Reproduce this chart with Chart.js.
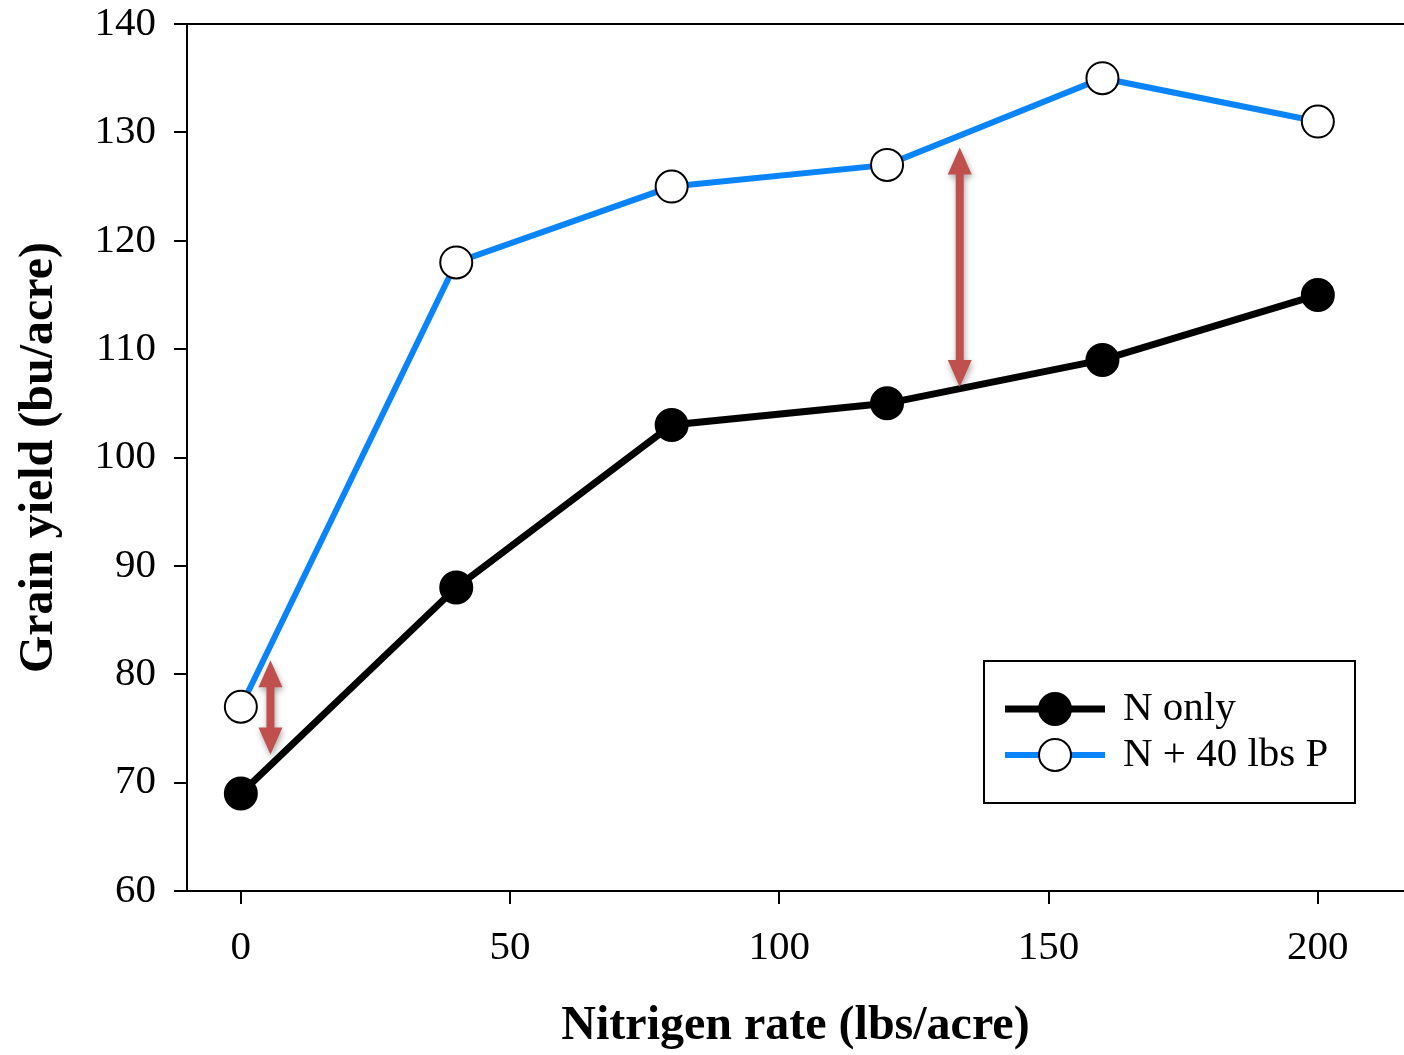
<!DOCTYPE html>
<html>
<head>
<meta charset="utf-8">
<script src="https://cdn.jsdelivr.net/npm/chart.js@4.4.1/dist/chart.umd.min.js"></script>
<style>
  html, body { margin: 0; padding: 0; background: #ffffff; }
  #wrap { width: 1404px; height: 1055px; position: relative; }
</style>
</head>
<body>
<div id="wrap"><canvas id="c" width="1404" height="1055"></canvas></div>
<script>
// ---- Data ----
const nRates = [0, 40, 80, 120, 160, 200];
const nOnly = [69, 88, 103, 105, 109, 115];
const nPlusP = [77, 118, 125, 127, 135, 131];
const seriesNames = ['N only', 'N + 40 lbs P'];
const xTickValues = [0, 50, 100, 150, 200];
const yTickValues = [60, 70, 80, 90, 100, 110, 120, 130, 140];
const arrowX = [5.5, 133.5];
const arrowLow = [72.6, 106.5];
const arrowHigh = [81.3, 128.6];
const xTitle = 'Nitrigen rate (lbs/acre)';
const yTitle = 'Grain yield (bu/acre)';

const SERIF = '"Liberation Serif", "Times New Roman", serif';
const BLUE = '#0A84FA';
const RED = '#C0504D';

const arrowPlugin = {
  id: 'arrows',
  afterDatasetsDraw(chart) {
    const ctx = chart.ctx;
    const xs = chart.scales.x, ys = chart.scales.y;
    ctx.save();
    for (let i = 0; i < arrowX.length; i++) {
      const x = xs.getPixelForValue(arrowX[i]);
      const yTop = ys.getPixelForValue(arrowHigh[i]);
      const yBot = ys.getPixelForValue(arrowLow[i]);
      const headL = 27, headW = 12, shaft = 4;
      ctx.shadowColor = 'rgba(0,0,0,0.35)';
      ctx.shadowBlur = 6;
      ctx.shadowOffsetX = 1;
      ctx.shadowOffsetY = 3;
      ctx.fillStyle = RED;
      ctx.beginPath();
      ctx.moveTo(x, yTop);
      ctx.lineTo(x + headW, yTop + headL);
      ctx.lineTo(x + shaft, yTop + headL);
      ctx.lineTo(x + shaft, yBot - headL);
      ctx.lineTo(x + headW, yBot - headL);
      ctx.lineTo(x, yBot);
      ctx.lineTo(x - headW, yBot - headL);
      ctx.lineTo(x - shaft, yBot - headL);
      ctx.lineTo(x - shaft, yTop + headL);
      ctx.lineTo(x - headW, yTop + headL);
      ctx.closePath();
      ctx.fill();
    }
    ctx.restore();
  }
};

const legendPlugin = {
  id: 'boxLegend',
  afterDraw(chart) {
    const ctx = chart.ctx;
    const a = chart.chartArea;
    const left = a.left + 797, top = a.top + 637, w = 371, h = 142;
    ctx.save();
    ctx.fillStyle = '#fff';
    ctx.fillRect(left, top, w, h);
    ctx.strokeStyle = '#000';
    ctx.lineWidth = 2;
    ctx.strokeRect(left, top, w, h);
    chart.data.datasets.forEach((ds, i) => {
      const cy = top + 48 + i * 46;
      const x0 = left + 21, x1 = left + 121, cx = (x0 + x1) / 2;
      ctx.strokeStyle = ds.borderColor;
      ctx.lineWidth = ds.borderWidth;
      ctx.beginPath(); ctx.moveTo(x0, cy); ctx.lineTo(x1, cy); ctx.stroke();
      ctx.beginPath(); ctx.arc(cx, cy, ds.pointRadius, 0, Math.PI * 2);
      ctx.fillStyle = ds.pointBackgroundColor; ctx.fill();
      ctx.lineWidth = ds.pointBorderWidth; ctx.strokeStyle = ds.pointBorderColor; ctx.stroke();
      ctx.fillStyle = '#000';
      ctx.font = '41px ' + SERIF;
      ctx.textBaseline = 'middle';
      ctx.textAlign = 'left';
      ctx.fillText(ds.label, left + 139, cy);
    });
    ctx.restore();
  }
};

new Chart(document.getElementById('c'), {
  type: 'line',
  data: {
    datasets: [
      {
        label: seriesNames[0],
        data: nRates.map((x, i) => ({ x, y: nOnly[i] })),
        borderColor: '#000',
        borderWidth: 7,
        pointRadius: 16,
        pointBackgroundColor: '#000',
        pointBorderColor: '#000',
        pointBorderWidth: 2,
        tension: 0,
        clip: false
      },
      {
        label: seriesNames[1],
        data: nRates.map((x, i) => ({ x, y: nPlusP[i] })),
        borderColor: BLUE,
        borderWidth: 6,
        pointRadius: 16,
        pointBackgroundColor: '#fff',
        pointBorderColor: '#000',
        pointBorderWidth: 2,
        tension: 0,
        clip: false
      }
    ]
  },
  options: {
    responsive: false,
    animation: false,
    events: [],
    layout: { autoPadding: false, padding: { top: 24, right: 0, left: 0, bottom: 0 } },
    plugins: { legend: { display: false }, tooltip: { enabled: false } },
    scales: {
      x: {
        type: 'linear',
        min: -10,
        max: 216,
        afterBuildTicks(s) { s.ticks = xTickValues.map(v => ({ value: v })); },
        afterFit(s) { s.height = 164; s.paddingLeft = 0; s.paddingRight = 0; },
        border: { display: true, color: '#000', width: 2 },
        grid: { drawOnChartArea: false, drawTicks: true, tickLength: 13, tickColor: '#000', lineWidth: 2 },
        ticks: { color: '#000', padding: 20, maxRotation: 0, font: { family: SERIF, size: 41 } },
        title: { display: true, text: xTitle, color: '#000', padding: { top: 16, bottom: 0 }, font: { family: SERIF, size: 48, weight: 'bold' } }
      },
      y: {
        type: 'linear',
        min: 60,
        max: 140,
        afterBuildTicks(s) { s.ticks = yTickValues.map(v => ({ value: v })); },
        afterFit(s) { s.width = 187; s.paddingTop = 0; s.paddingBottom = 0; },
        border: { display: true, color: '#000', width: 2 },
        grid: {
          drawOnChartArea: true,
          drawTicks: true,
          tickLength: 13,
          tickColor: '#000',
          lineWidth: 2,
          color: (c) => (c.tick && (c.tick.value === 60 || c.tick.value === 140)) ? '#000' : 'rgba(0,0,0,0)'
        },
        ticks: { color: '#000', padding: 18, font: { family: SERIF, size: 41 } },
        title: { display: true, text: yTitle, color: '#000', padding: { top: 11, bottom: 8 }, font: { family: SERIF, size: 48, weight: 'bold' } }
      }
    }
  },
  plugins: [arrowPlugin, legendPlugin]
});
</script>
</body>
</html>
